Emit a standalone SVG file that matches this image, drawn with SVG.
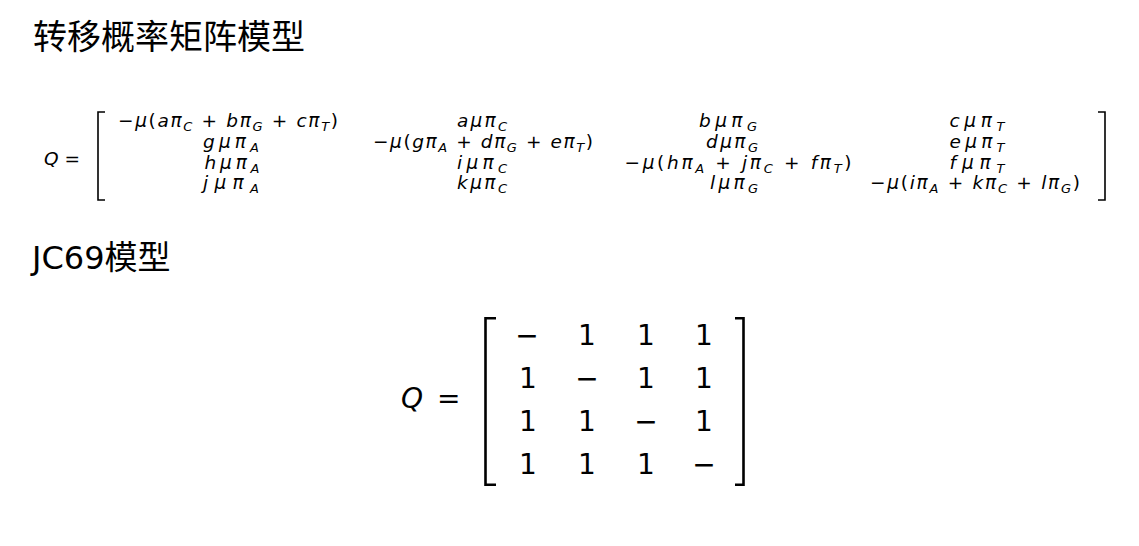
<svg xmlns="http://www.w3.org/2000/svg" width="1139" height="546" viewBox="0 0 1139 546">
<style>
.h{font-family:"Noto Sans CJK SC","Noto Sans",sans-serif;fill:#000}
.lat{font-family:"DejaVu Sans","Noto Sans CJK SC",sans-serif}
.m{font-family:"DejaVu Sans",sans-serif;font-size:18.5px;font-style:italic;fill:#000}
.u{font-style:normal}
.s{font-size:13px}
.b{fill:none;stroke:#000}
.big{font-family:"DejaVu Sans",sans-serif;font-size:28px;fill:#000}
</style>
<rect width="1139" height="546" fill="#fff"/>
<g id="title1"><text class="h" x="33" y="49" font-size="34">转移概率矩阵模型</text></g>
<g id="matrix1">
<text class="m" x="44" y="165">Q<tspan class="u"> =</tspan></text>
<path class="b" stroke-width="1.6" d="M105,112H98V200H105"/>
<path class="b" stroke-width="1.6" d="M1098,112H1105V200H1098"/>
<g text-anchor="middle">
<text class="m" x="228" y="127" textLength="220" lengthAdjust="spacing"><tspan class="u">−</tspan>μ<tspan class="u">(</tspan>aπ<tspan class="s" dy="4">C</tspan><tspan class="u" dy="-4"> + </tspan>bπ<tspan class="s" dy="4">G</tspan><tspan class="u" dy="-4"> + </tspan>cπ<tspan class="s" dy="4">T</tspan><tspan class="u" dy="-4">)</tspan></text>
<text class="m" x="482" y="127" textLength="50" lengthAdjust="spacing">aμπ<tspan class="s" dy="4">C</tspan></text>
<text class="m" x="728" y="127" textLength="58" lengthAdjust="spacing">bμπ<tspan class="s" dy="4">G</tspan></text>
<text class="m" x="977" y="127" textLength="55" lengthAdjust="spacing">cμπ<tspan class="s" dy="4">T</tspan></text>

<text class="m" x="231" y="148" textLength="56" lengthAdjust="spacing">gμπ<tspan class="s" dy="4">A</tspan></text>
<text class="m" x="483" y="148" textLength="220" lengthAdjust="spacing"><tspan class="u">−</tspan>μ<tspan class="u">(</tspan>gπ<tspan class="s" dy="4">A</tspan><tspan class="u" dy="-4"> + </tspan>dπ<tspan class="s" dy="4">G</tspan><tspan class="u" dy="-4"> + </tspan>eπ<tspan class="s" dy="4">T</tspan><tspan class="u" dy="-4">)</tspan></text>
<text class="m" x="732" y="148" textLength="52" lengthAdjust="spacing">dμπ<tspan class="s" dy="4">G</tspan></text>
<text class="m" x="977" y="148" textLength="55" lengthAdjust="spacing">eμπ<tspan class="s" dy="4">T</tspan></text>

<text class="m" x="232" y="168.5" textLength="55" lengthAdjust="spacing">hμπ<tspan class="s" dy="4">A</tspan></text>
<text class="m" x="482" y="168.5" textLength="50" lengthAdjust="spacing">iμπ<tspan class="s" dy="4">C</tspan></text>
<text class="m" x="738" y="168.5" textLength="227" lengthAdjust="spacing"><tspan class="u">−</tspan>μ<tspan class="u">(</tspan>hπ<tspan class="s" dy="4">A</tspan><tspan class="u" dy="-4"> + </tspan>jπ<tspan class="s" dy="4">C</tspan><tspan class="u" dy="-4"> + </tspan>fπ<tspan class="s" dy="4">T</tspan><tspan class="u" dy="-4">)</tspan></text>
<text class="m" x="977" y="168.5" textLength="55" lengthAdjust="spacing">fμπ<tspan class="s" dy="4">T</tspan></text>

<text class="m" x="231" y="189" textLength="56" lengthAdjust="spacing">jμπ<tspan class="s" dy="4">A</tspan></text>
<text class="m" x="482" y="189" textLength="50" lengthAdjust="spacing">kμπ<tspan class="s" dy="4">C</tspan></text>
<text class="m" x="734" y="189" textLength="48" lengthAdjust="spacing">lμπ<tspan class="s" dy="4">G</tspan></text>
<text class="m" x="975" y="189" textLength="210" lengthAdjust="spacing"><tspan class="u">−</tspan>μ<tspan class="u">(</tspan>iπ<tspan class="s" dy="4">A</tspan><tspan class="u" dy="-4"> + </tspan>kπ<tspan class="s" dy="4">C</tspan><tspan class="u" dy="-4"> + </tspan>lπ<tspan class="s" dy="4">G</tspan><tspan class="u" dy="-4">)</tspan></text>
</g>
</g>
<g id="title2"><text class="h" x="32" y="269" font-size="33"><tspan class="lat" font-size="32">JC69</tspan>模型</text></g>
<g id="matrix2">
<text class="big" x="401" y="408"><tspan font-style="italic">Q</tspan></text>
<text class="big" x="437" y="408">=</text>
<path class="b" stroke-width="2.6" d="M496,318.3H485.5V484.7H496"/>
<path class="b" stroke-width="2.6" d="M735,318.3H743.5V484.7H735"/>
<g text-anchor="middle" class="big">
<text x="527" y="345">−</text><text x="587" y="345">1</text><text x="646" y="345">1</text><text x="704" y="345">1</text>
<text x="528" y="388">1</text><text x="587" y="388">−</text><text x="646" y="388">1</text><text x="704" y="388">1</text>
<text x="528" y="431">1</text><text x="587" y="431">1</text><text x="646" y="431">−</text><text x="704" y="431">1</text>
<text x="528" y="474">1</text><text x="587" y="474">1</text><text x="646" y="474">1</text><text x="704" y="474">−</text>
</g>
</g>
</svg>
